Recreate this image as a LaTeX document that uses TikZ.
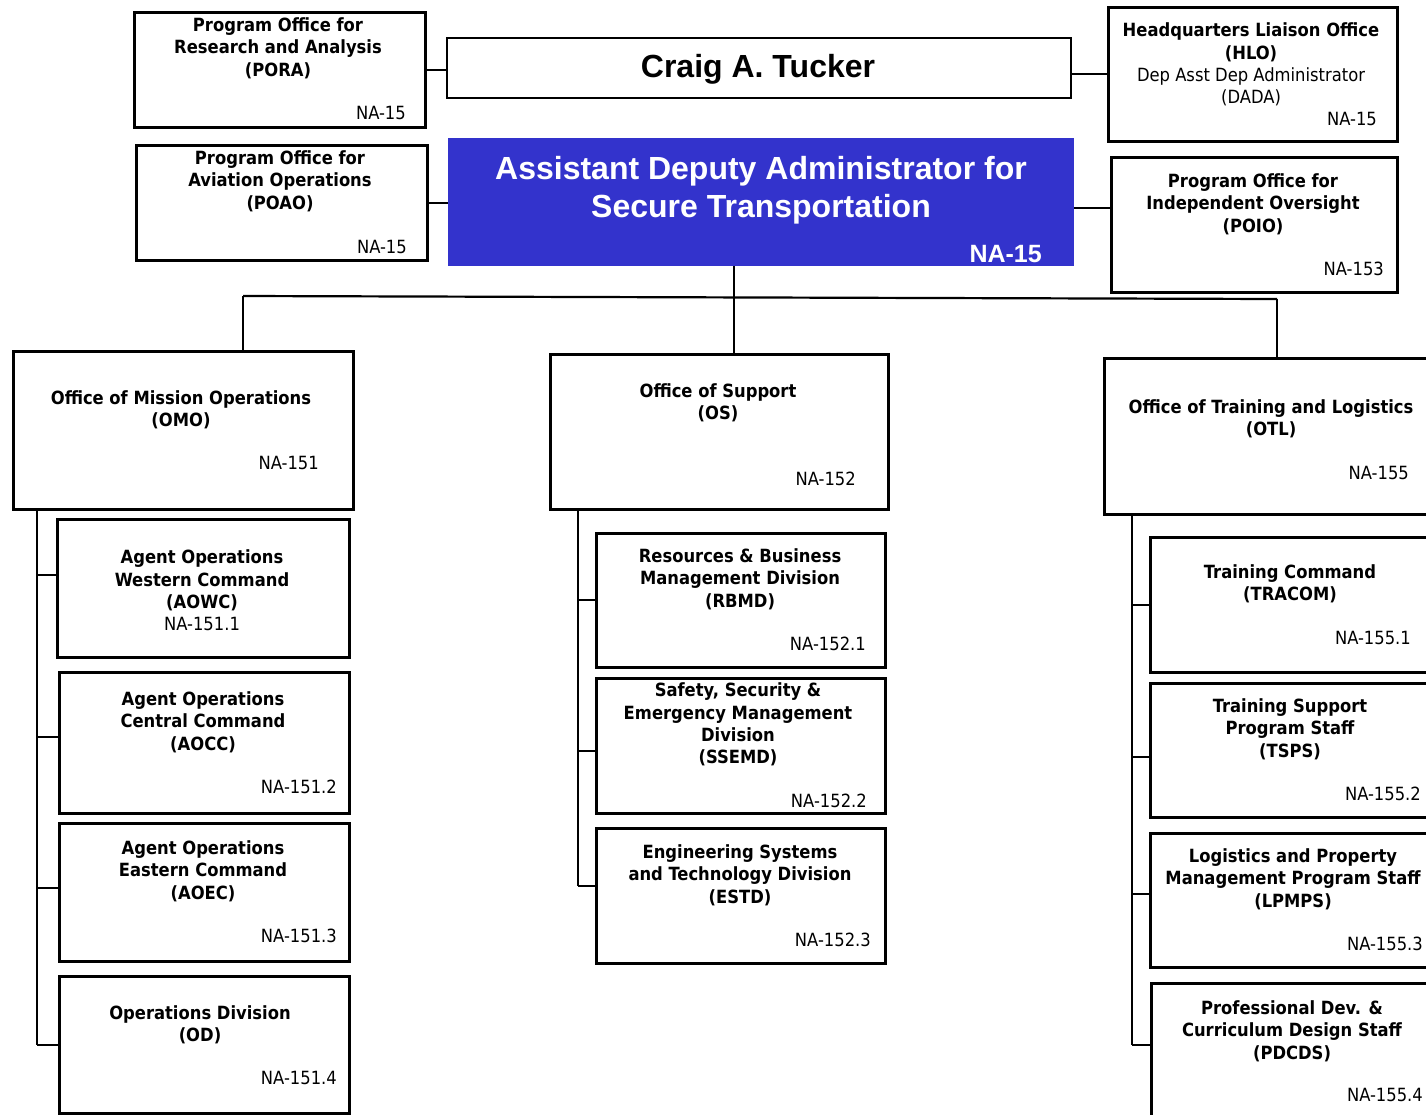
\documentclass[tikz,border=0pt]{standalone}
\usepackage{fontspec}
\setmainfont{DejaVu Sans Condensed}[BoldFont={DejaVu Sans Condensed Bold}]
\newfontfamily\arialfont{Liberation Sans}
\definecolor{adsblue}{RGB}{51,51,204}
\usetikzlibrary{calc}
\newcommand\orgbox[5]{\node[obox,anchor=north west,minimum width={(#4)-(#2)},minimum height={(#5)-(#3)}] (#1) at (#2,#3) {};}
\begin{document}
\begin{tikzpicture}[x=1pt,y=-1pt,
  obox/.style={draw,line width=2.6pt,inner sep=0pt,fill=white},
  ttl/.style={align=center,inner sep=0pt,yshift=-2pt,font=\fontsize{18.2}{22.4}\selectfont\bfseries},
  code/.style={inner sep=0pt,font=\fontsize{18.2}{22.4}\selectfont},
  conn/.style={line width=2.2pt},
  thin/.style={line width=2pt}]
\useasboundingbox (0,0) rectangle (1426,1114);
% ---- top row boxes
\orgbox{pora}{133}{11}{424}{126}
\orgbox{poao}{135}{144}{426}{259}
\node[draw,line width=1.8pt,anchor=north west,minimum width=624,minimum height=60,inner sep=0pt] (craig) at (446,37) {};
\node[fill=adsblue,anchor=north west,minimum width=626,minimum height=128,inner sep=0pt] (ads) at (448,138) {};
\orgbox{hlo}{1107}{6}{1396}{140}
\orgbox{poio}{1110}{156}{1396}{291}
% texts
\node[ttl] (pora-t) at (278,46) {Program Office for\\Research and Analysis\\(PORA)};
\node[code,anchor=east] (pora-c) at (406,113) {NA-15};
\node[ttl] (poao-t) at (280,179) {Program Office for\\Aviation Operations\\(POAO)};
\node[code,anchor=east] (poao-c) at (407,247) {NA-15};
\node[inner sep=0pt,font=\arialfont\fontsize{32}{38}\selectfont\bfseries] (craig-t) at (758,69) {Craig A. Tucker};
\node[inner sep=0pt,align=center,text=white,font=\arialfont\fontsize{32}{38}\selectfont\bfseries] (ads-t) at (761,190) {Assistant Deputy Administrator for\\Secure Transportation};
\node[inner sep=0pt,text=white,anchor=east,font=\arialfont\fontsize{25}{30}\selectfont\bfseries] (ads-c) at (1042,254) {NA-15};
\node[ttl] (hlo-t) at (1251,62.5) {Headquarters Liaison Office\\(HLO)\\\mdseries Dep Asst Dep Administrator\\\mdseries (DADA)};
\node[code,anchor=east] (hlo-c) at (1377,119) {NA-15};
\node[ttl] (poio-t) at (1253,202) {Program Office for\\Independent Oversight\\(POIO)};
\node[code,anchor=east] (poio-c) at (1384,269) {NA-153};
% top connectors
\draw[thin] (pora.east) -- (pora.east -| craig.west);
\draw[thin] (craig.east |- hlo.west) -- (hlo.west);
\draw[thin] (poao.east) -- (poao.east -| ads.west);
\coordinate (poiojoin) at (1074,208);
\draw[thin] (ads.east |- poiojoin) -- (poio.west |- poiojoin);
% ---- offices
\orgbox{omo}{12}{350}{352}{508}
\orgbox{os}{549}{353}{887}{508}
\orgbox{otl}{1103}{357}{1445}{513}
\node[ttl] (omo-t) at (181,407.5) {Office of Mission Operations\\(OMO)};
\node[code,anchor=east] (omo-c) at (319,463) {NA-151};
\node[ttl] (os-t) at (718,400.5) {Office of Support\\(OS)};
\node[code,anchor=east] (os-c) at (856,479) {NA-152};
\node[ttl] (otl-t) at (1271,416.5) {Office of Training and Logistics\\(OTL)};
\node[code,anchor=east] (otl-c) at (1409,473) {NA-155};
% bus
\coordinate (busL) at (243,296);
\coordinate (busM) at (734,297.5);
\coordinate (busR) at (1277,299);
\draw[conn] (busL) -- (busR);
\draw[conn] (ads.south -| busM) -- (busM);
\draw[conn] (busL) -- (busL |- omo.north);
\draw[conn] (busM) -- (busM |- os.north);
\draw[conn] (busR) -- (busR |- otl.north);
% ---- OMO children
\orgbox{aowc}{56}{518}{348}{656}
\orgbox{aocc}{58}{671}{348}{812}
\orgbox{aoec}{58}{822}{348}{960}
\orgbox{od}{58}{975}{348}{1112}
\node[ttl] (aowc-t) at (202,588.5) {Agent Operations\\Western Command\\(AOWC)\\\mdseries NA-151.1};
\node[ttl] (aocc-t) at (203,720) {Agent Operations\\Central Command\\(AOCC)};
\node[code,anchor=east] (aocc-c) at (337,787) {NA-151.2};
\node[ttl] (aoec-t) at (203,869) {Agent Operations\\Eastern Command\\(AOEC)};
\node[code,anchor=east] (aoec-c) at (337,936) {NA-151.3};
\node[ttl] (od-t) at (200,1022.5) {Operations Division\\(OD)};
\node[code,anchor=east] (od-c) at (337,1078) {NA-151.4};
\coordinate (sp1) at (37,1045);
\draw[conn] (sp1 |- omo.south) -- (sp1);
\draw[conn] ([yshift=13pt]aowc.west) -- ([yshift=13pt]aowc.west -| sp1);
\draw[conn] ([yshift=6pt]aocc.west) -- ([yshift=6pt]aocc.west -| sp1);
\draw[conn] ([yshift=4pt]aoec.west) -- ([yshift=4pt]aoec.west -| sp1);
\draw[conn] (od.west |- sp1) -- (sp1);
% ---- OS children
\orgbox{rbmd}{595}{532}{884}{666}
\orgbox{ssemd}{595}{677}{884}{812}
\orgbox{estd}{595}{827}{884}{962}
\node[ttl] (rbmd-t) at (740,577) {Resources \& Business\\Management Division\\(RBMD)};
\node[code,anchor=east] (rbmd-c) at (866,644) {NA-152.1};
\node[ttl] (ssemd-t) at (738,722.5) {Safety, Security \&\\Emergency Management\\Division\\(SSEMD)};
\node[code,anchor=east] (ssemd-c) at (867,801) {NA-152.2};
\node[ttl] (estd-t) at (740,873) {Engineering Systems\\and Technology Division\\(ESTD)};
\node[code,anchor=east] (estd-c) at (871,940) {NA-152.3};
\coordinate (sp2) at (578,886);
\draw[conn] (sp2 |- os.south) -- (sp2);
\draw[conn] (rbmd.west) -- (rbmd.west -| sp2);
\draw[conn] ([yshift=-5pt]ssemd.west) -- ([yshift=-5pt]ssemd.west -| sp2);
\draw[conn] (estd.west |- sp2) -- (sp2);
% ---- OTL children
\orgbox{tracom}{1149}{536}{1445}{671}
\orgbox{tsps}{1149}{682}{1445}{816}
\orgbox{lpmps}{1149}{832}{1445}{966}
\orgbox{pdcds}{1150}{982}{1445}{1125}
\node[ttl] (tracom-t) at (1290,582) {Training Command\\(TRACOM)};
\node[code,anchor=east] (tracom-c) at (1411,638) {NA-155.1};
\node[ttl] (tsps-t) at (1290,727) {Training Support\\Program Staff\\(TSPS)};
\node[code,anchor=east] (tsps-c) at (1421,794) {NA-155.2};
\node[ttl] (lpmps-t) at (1293,877) {Logistics and Property\\Management Program Staff\\(LPMPS)};
\node[code,anchor=east] (lpmps-c) at (1423,944) {NA-155.3};
\node[ttl] (pdcds-t) at (1292,1029) {Professional Dev. \&\\Curriculum Design Staff\\(PDCDS)};
\node[code,anchor=east] (pdcds-c) at (1423,1095) {NA-155.4};
\coordinate (sp3) at (1132,1045);
\draw[conn] (sp3 |- otl.south) -- (sp3);
\draw[conn] (tracom.west) -- (tracom.west -| sp3);
\draw[conn] ([yshift=-7pt]tsps.west) -- ([yshift=-7pt]tsps.west -| sp3);
\draw[conn] ([yshift=6pt]lpmps.west) -- ([yshift=6pt]lpmps.west -| sp3);
\draw[conn] (pdcds.west |- sp3) -- (sp3);
\end{tikzpicture}
\end{document}
